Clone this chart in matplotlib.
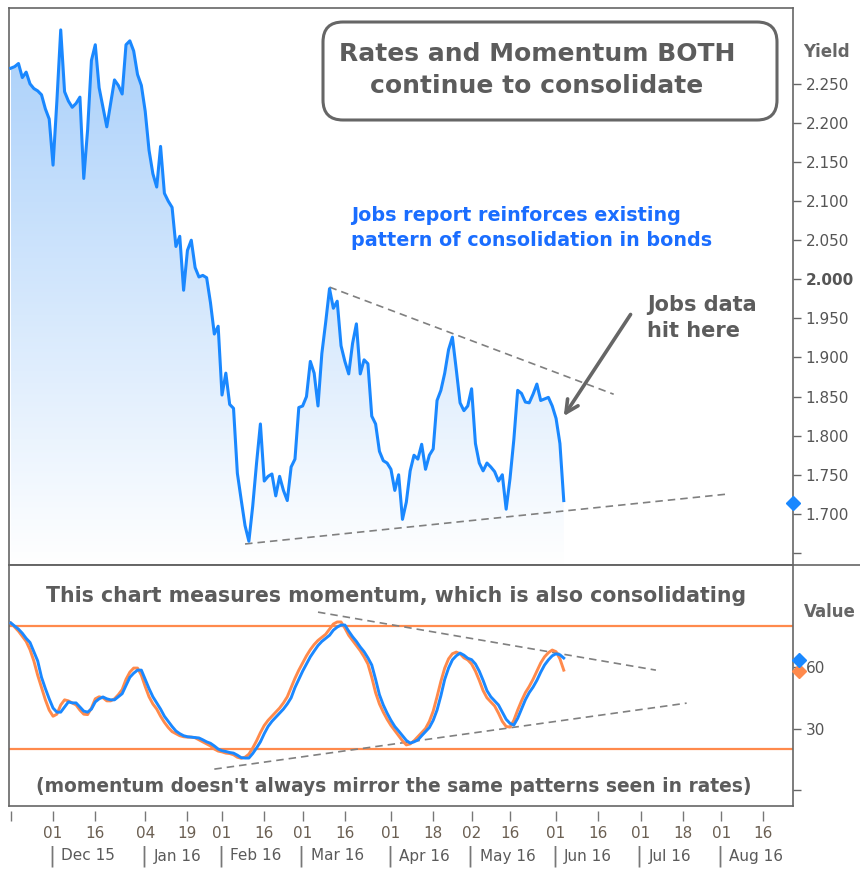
import numpy as np
import pandas as pd
import matplotlib
matplotlib.use("Agg")
import matplotlib.pyplot as plt
import matplotlib.transforms as mtransforms
from matplotlib.colors import LinearSegmentedColormap
from matplotlib.patches import Polygon, FancyBboxPatch
from matplotlib.lines import Line2D

# trading days, first one is 16 Nov 2015
days = pd.bdate_range("2015-11-16", "2016-08-31")

# 10y yield, one value per trading day up to the jobs report (3 Jun 2016)
yields = [2.270, 2.272, 2.276, 2.258, 2.265, 2.250, 2.244, 2.241, 2.236, 2.218,
          2.205, 2.146, 2.228, 2.319, 2.240, 2.228, 2.220, 2.225, 2.233, 2.129,
          2.191, 2.280, 2.300, 2.245, 2.220, 2.195, 2.225, 2.255, 2.248, 2.237,
          2.300, 2.305, 2.292, 2.262, 2.248, 2.215, 2.165, 2.135, 2.118, 2.170,
          2.110, 2.100, 2.092, 2.042, 2.055, 1.986, 2.037, 2.050, 2.015, 2.003,
          2.005, 2.002, 1.970, 1.930, 1.940, 1.852, 1.880, 1.840, 1.835, 1.752,
          1.718, 1.685, 1.665, 1.710, 1.765, 1.815, 1.742, 1.748, 1.751, 1.723,
          1.748, 1.730, 1.717, 1.760, 1.770, 1.836, 1.838, 1.850, 1.895, 1.880,
          1.838, 1.905, 1.945, 1.988, 1.963, 1.972, 1.915, 1.895, 1.879, 1.918,
          1.943, 1.879, 1.897, 1.892, 1.825, 1.815, 1.780, 1.768, 1.765, 1.757,
          1.730, 1.750, 1.693, 1.715, 1.755, 1.775, 1.770, 1.789, 1.757, 1.775,
          1.783, 1.845, 1.858, 1.880, 1.910, 1.926, 1.885, 1.842, 1.832, 1.838,
          1.860, 1.790, 1.765, 1.755, 1.765, 1.760, 1.754, 1.742, 1.750, 1.706,
          1.745, 1.795, 1.858, 1.854, 1.843, 1.842, 1.853, 1.866, 1.845, 1.847,
          1.849, 1.838, 1.822, 1.790, 1.717]

# momentum oscillator (blue main line, orange signal line)
mom_main = [81.5, 80, 78.5, 76.5, 74, 72, 67.5, 63, 55, 49.5,
            44.5, 40, 38, 38, 40.5, 43, 42.5, 42.5, 40.5, 38.5,
            38, 39.5, 43, 44.5, 45.4, 44.5, 44, 44, 45.5, 47,
            51, 55, 57, 58.5, 58.5, 54, 49.5, 45.5, 42.5, 39.5,
            36, 33.5, 31, 28.8, 27.5, 26.5, 26, 25.8, 25.6, 25.4,
            24.5, 23.5, 22.8, 21.5, 20, 19.2, 18.8, 18.3, 18, 17,
            15.8, 15.6, 15.6, 17.8, 20.5, 23.5, 27.5, 31, 33.5, 35.5,
            37.5, 39.5, 42, 45, 50, 54, 58, 61.5, 65, 67.8,
            70.5, 72.5, 74, 75.5, 78, 79.5, 80.5, 80.5, 77.5, 74.8,
            72.5, 69.8, 67.5, 64.5, 61, 54, 46.5, 41.5, 37.5, 34,
            31, 28.8, 26.5, 24.2, 22.9, 23.5, 24.4, 26.5, 28.5, 30.5,
            34, 39, 46, 54, 59.5, 63.5, 65.5, 66.8, 65.8, 64.3,
            63.6, 61.5, 58, 53.5, 48.5, 45.5, 43.5, 41.5, 38, 34.5,
            32.5, 31.7, 35, 39.5, 44, 47.5, 50.2, 53.5, 57.5, 61,
            63.5, 65.5, 66.5, 66, 64.4]
mom_signal = [81.5, 79.5, 77.5, 75, 72.5, 68.5, 63, 56, 50, 44,
              39, 36, 37, 41.5, 44, 43.5, 42.5, 41.5, 39, 37,
              36.8, 40, 44.5, 45.5, 45, 43.5, 43.5, 44.5, 46.5, 49,
              54, 57.5, 59.5, 59.5, 56, 50.5, 45.5, 42, 39.5, 36,
              33, 30.5, 28.5, 27.5, 26.5, 26, 25.8, 25.8, 25.5, 24.5,
              23.5, 22.5, 21.5, 20, 19, 18.6, 18, 17.8, 17.2, 16,
              15.5, 16, 17.5, 20.5, 24, 28, 31.5, 34, 36, 38,
              40, 42.5, 45.5, 50, 54.5, 58.5, 62, 65.5, 68.5, 71,
              73, 74.5, 76, 78.5, 81, 82, 82, 79, 75.5, 73,
              70.5, 68, 65, 61.5, 55, 47.5, 42, 38, 34.5, 31.5,
              29, 26.5, 24, 22, 22.5, 24, 26, 28, 30, 33.5,
              38.5, 45.5, 53, 59.5, 64, 66.5, 67.3, 66.5, 64.5, 63.5,
              61.5, 58, 53.5, 48.5, 45, 43, 41, 37.5, 33.5, 31,
              30.7, 34, 39, 43.5, 47.5, 50.5, 54, 58, 62, 65,
              67, 68.3, 67.5, 64, 58.5]
mom_levels = [80, 20]

# hand drawn trend lines: (start date, start value, end date, end value)
price_top_line = ("2016-03-10", 1.990, "2016-06-22", 1.853)
price_low_line = ("2016-02-09", 1.6615, "2016-08-02", 1.725)
mom_top_line = ("2016-03-07", 86.8, "2016-07-07", 58.5)
mom_low_line = ("2016-01-28", 10.2, "2016-07-19", 42.4)

tick_dates = ["2015-11-16", "2015-12-01", "2015-12-16", "2016-01-04", "2016-01-19",
              "2016-02-01", "2016-02-16", "2016-03-01", "2016-03-16", "2016-04-01",
              "2016-04-18", "2016-05-02", "2016-05-16", "2016-06-01", "2016-06-16",
              "2016-07-01", "2016-07-18", "2016-08-01", "2016-08-16"]
tick_labels = ["", "01", "16", "04", "19", "01", "16", "01", "16", "01",
               "18", "02", "16", "01", "16", "01", "18", "01", "16"]
month_dates = ["2015-12-01", "2016-01-04", "2016-02-01", "2016-03-01", "2016-04-01",
               "2016-05-02", "2016-06-01", "2016-07-01", "2016-08-01"]
month_labels = ["Dec 15", "Jan 16", "Feb 16", "Mar 16", "Apr 16",
                "May 16", "Jun 16", "Jul 16", "Aug 16"]

yield_ticks = [1.65, 1.70, 1.75, 1.80, 1.85, 1.90, 1.95, 2.00, 2.05, 2.10, 2.15, 2.20, 2.25]
mom_ticks = [0, 30, 60]


def pos(d):
    return days.get_loc(pd.Timestamp(d))


BLUE = "#1a88ff"
ORANGE = "#ff8a4c"
GREY = "#666666"
TXT = "#5c5c5c"

plt.rcParams["font.family"] = "DejaVu Sans"
fig = plt.figure(figsize=(8.6, 8.69), dpi=100)
W, H = 860, 869
ax1 = fig.add_axes([9 / W, 1 - 565 / H, (793 - 9) / W, (565 - 8) / H])
ax2 = fig.add_axes([9 / W, 1 - 806 / H, (793 - 9) / W, (806 - 565) / H])

x = np.arange(len(yields))
xlim = (-0.47, 203.7)

# ---- top panel: yields ----
ylo, yhi = 1.6346, 2.347
ax1.set_xlim(*xlim)
ax1.set_ylim(ylo, yhi)
cmap = LinearSegmentedColormap.from_list("fade", ["#ffffff", "#a6cefa"])
grad = np.linspace(0, 1, 256).reshape(-1, 1)
im = ax1.imshow(grad, aspect="auto", cmap=cmap, origin="lower",
                extent=[x[0], x[-1], ylo, yhi], zorder=1)
verts = np.column_stack([np.r_[x, x[-1], x[0]], np.r_[yields, ylo, ylo]])
clip = Polygon(verts, closed=True, facecolor="none", edgecolor="none")
ax1.add_patch(clip)
im.set_clip_path(clip)
ax1.plot(x, yields, color=BLUE, lw=2.2, zorder=3)

for s0, v0, s1, v1 in [price_top_line, price_low_line]:
    ax1.plot([pos(s0), pos(s1)], [v0, v1], color="#808080", lw=1.2,
             dashes=(4.5, 3), zorder=2)

ax1.yaxis.tick_right()
ax1.set_yticks(yield_ticks)
ax1.set_yticklabels(["" if t < 1.7 else f"{t:.3f}" for t in yield_ticks])
for lab in ax1.get_yticklabels():
    if lab.get_text() == "2.000":
        lab.set_fontweight("bold")
ax1.tick_params(axis="y", direction="out", length=6, width=1, color=GREY,
                labelsize=11, labelcolor="#555555", pad=3)
ax1.set_xticks([])
ax1.plot([1.0], [yields[-1] - 0.003], marker="D", ms=7, color=BLUE,
         transform=mtransforms.blended_transform_factory(ax1.transAxes, ax1.transData),
         clip_on=False, zorder=5)

# ---- bottom panel: momentum ----
ax2.set_xlim(*xlim)
ax2.set_ylim(-7.8, 109.8)
for lv in mom_levels:
    ax2.axhline(lv, color=ORANGE, lw=1.6, zorder=1)
for s0, v0, s1, v1 in [mom_top_line, mom_low_line]:
    ax2.plot([pos(s0), pos(s1)], [v0, v1], color="#808080", lw=1.2,
             dashes=(4.5, 3), zorder=2)
ax2.plot(x, mom_signal, color=ORANGE, lw=2.1, zorder=3)
ax2.plot(x, mom_main, color=BLUE, lw=2.1, zorder=4)
ax2.yaxis.tick_right()
ax2.set_yticks(mom_ticks)
ax2.set_yticklabels(["" if t == 0 else str(t) for t in mom_ticks])
ax2.tick_params(axis="y", direction="out", length=6, width=1, color=GREY,
                labelsize=11, labelcolor="#555555", pad=3)
ax2.set_xticks([])
tr2 = mtransforms.blended_transform_factory(ax2.transAxes, ax2.transData)
ax2.plot([1.008], [mom_main[-1] - 1], marker="D", ms=7, color=BLUE,
         transform=tr2, clip_on=False, zorder=6)
ax2.plot([1.008], [mom_signal[-1] - 0.5], marker="D", ms=7, color=ORANGE,
         transform=tr2, clip_on=False, zorder=5)

for ax in (ax1, ax2):
    for sp in ax.spines.values():
        sp.set_color(GREY)
        sp.set_linewidth(1.2)

# date axis sits a little below the momentum frame
sec = ax2.secondary_xaxis(-0.021)
sec.set_xticks([pos(d) for d in tick_dates])
sec.set_xticklabels(tick_labels)
sec.spines["bottom"].set_visible(False)
sec.tick_params(length=7, width=1, color="#777777", labelsize=11,
                labelcolor="#6b5f52", pad=4)

trm = mtransforms.blended_transform_factory(ax2.transData, fig.transFigure)
trm_text = mtransforms.offset_copy(trm, fig=fig, x=7, y=0, units="points")
for d, lab in zip(month_dates, month_labels):
    fig.text(pos(d) - 0.4, 1 - 856 / H, "|", transform=trm, ha="center",
             va="center", fontsize=15, color="#777777")
    fig.text(pos(d) - 0.4, 1 - 856 / H, lab, transform=trm_text,
             ha="left", va="center", fontsize=11, color="#5a5a5a")

# separator running out to the right edge
fig.add_artist(Line2D([9 / W, 1.0], [1 - 565 / H] * 2, color=GREY, lw=1.2))

# ---- labels and notes ----
fig.text(826 / W, 1 - 52 / H, "Yield", fontsize=12, fontweight="bold",
         color="#666666", ha="center", va="center")
fig.text(830 / W, 1 - 612 / H, "Value", fontsize=12, fontweight="bold",
         color="#666666", ha="center", va="center")

box = FancyBboxPatch((323 / 100, (H - 120) / 100), 454 / 100, 98 / 100,
                     boxstyle="round,pad=0,rounding_size=0.2",
                     transform=fig.dpi_scale_trans, facecolor="white",
                     edgecolor="#666666", lw=2.2, zorder=10)
fig.add_artist(box)
fig.text(537 / W, 1 - 70 / H, "Rates and Momentum BOTH\ncontinue to consolidate",
         fontsize=18, fontweight="bold", color=TXT, ha="center", va="center",
         linespacing=1.4, zorder=11)

fig.text(351 / W, 1 - 228 / H, "Jobs report reinforces existing\npattern of consolidation in bonds",
         fontsize=13.8, fontweight="bold", color="#1a6dff", ha="left", va="center",
         linespacing=1.45)

fig.text(647 / W, 1 - 318 / H, "Jobs data\nhit here", fontsize=15, fontweight="bold",
         color=TXT, ha="left", va="center", linespacing=1.35)
ax1.annotate("", xy=(143.6, 1.822), xytext=(161.8, 1.958),
             arrowprops=dict(arrowstyle="->,head_length=0.9,head_width=0.45",
                             color="#666666", lw=2.6), zorder=6)

fig.text(396 / W, 1 - 596 / H, "This chart measures momentum, which is also consolidating",
         fontsize=14.8, fontweight="bold", color=TXT, ha="center", va="center")
fig.text(394 / W, 1 - 787 / H, "(momentum doesn't always mirror the same patterns seen in rates)",
         fontsize=13.4, fontweight="bold", color=TXT, ha="center", va="center")

fig.savefig("out.png", dpi=100, facecolor="white")
